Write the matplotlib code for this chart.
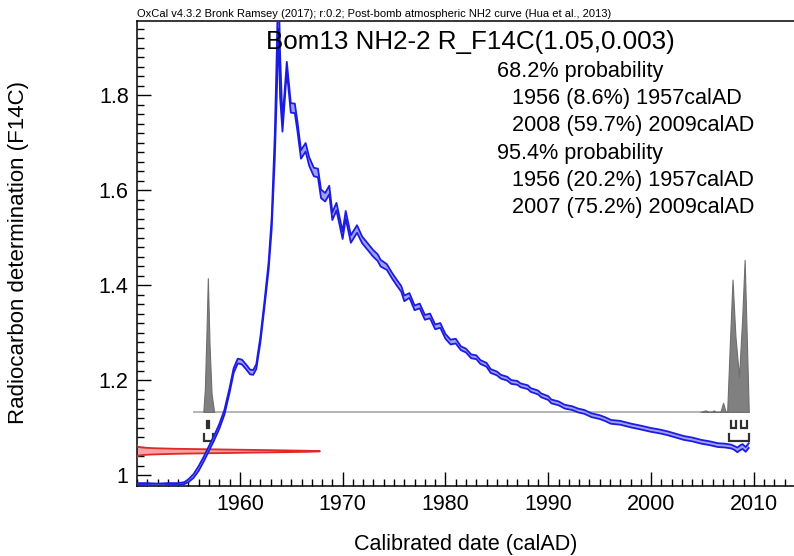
import matplotlib
matplotlib.use("Agg")
import matplotlib.pyplot as plt
import numpy as np
from matplotlib.ticker import MultipleLocator, FixedLocator

plt.rcParams['font.family'] = ['Liberation Sans', 'DejaVu Sans']

# ---- data ----
cal_year = [1950.0, 1951, 1952, 1953, 1954, 1954.6, 1955.0, 1955.5, 1956.0, 1956.5,
            1957.0, 1957.5, 1958.0, 1958.5, 1959.0, 1959.4, 1959.8, 1960.2, 1960.6, 1961.0,
            1961.3, 1961.6, 1962.0, 1962.4, 1962.8, 1963.1, 1963.4, 1963.6, 1963.75, 1963.92,
            1964.15, 1964.57, 1964.96, 1965.35, 1965.6, 1965.95, 1966.4, 1966.75, 1967.2, 1967.6,
            1967.9, 1968.3, 1968.7, 1969.0, 1969.4, 1970.0, 1970.3, 1970.8, 1971.4, 1971.9,
            1972.4, 1973.0, 1973.4, 1973.7, 1974.3, 1974.8, 1975.3, 1975.7, 1976.0, 1976.5,
            1977.0, 1977.5, 1978.0, 1978.5, 1979.0, 1979.5, 1980.0, 1980.5, 1981.0, 1981.5,
            1982.0, 1982.5, 1983.0, 1983.4, 1984.0, 1984.4, 1985.0, 1985.4, 1986.0, 1986.4,
            1987.0, 1987.3, 1988.0, 1988.3, 1989.0, 1989.3, 1990.0, 1990.3, 1991.0, 1991.6,
            1992.3, 1992.9, 1993.5, 1994.2, 1995.0, 1995.5, 1996.1, 1997.0, 1998.1, 1999.0,
            2000.0, 2000.8, 2001.6, 2002.4, 2003.2, 2004.0, 2004.9, 2005.7, 2006.5, 2007.2,
            2007.8, 2008.1, 2008.4, 2008.7, 2008.9, 2009.2, 2009.5]
cal_f14c = [0.981, 0.981, 0.980, 0.981, 0.981, 0.983, 0.988, 0.998, 1.014, 1.034,
            1.056, 1.078, 1.102, 1.132, 1.178, 1.220, 1.240, 1.238, 1.228, 1.217,
            1.216, 1.228, 1.285, 1.360, 1.440, 1.530, 1.690, 1.850, 2.000, 1.840,
            1.735, 1.860, 1.773, 1.772, 1.735, 1.675, 1.690, 1.660, 1.638, 1.636,
            1.592, 1.585, 1.600, 1.545, 1.565, 1.505, 1.548, 1.497, 1.518, 1.495,
            1.482, 1.466, 1.458, 1.446, 1.438, 1.420, 1.404, 1.392, 1.372, 1.378,
            1.352, 1.356, 1.332, 1.335, 1.312, 1.315, 1.292, 1.280, 1.282, 1.267,
            1.262, 1.250, 1.248, 1.238, 1.232, 1.219, 1.214, 1.207, 1.203, 1.196,
            1.194, 1.189, 1.185, 1.179, 1.174, 1.168, 1.162, 1.155, 1.151, 1.144,
            1.141, 1.136, 1.133, 1.126, 1.122, 1.118, 1.112, 1.110, 1.104, 1.100,
            1.095, 1.092, 1.088, 1.083, 1.078, 1.075, 1.070, 1.067, 1.063, 1.062,
            1.060, 1.057, 1.053, 1.058, 1.060, 1.054, 1.062]
cal_sigma = [0.002, 0.002, 0.002, 0.002, 0.002, 0.002, 0.003, 0.004, 0.005, 0.005,
             0.005, 0.005, 0.005, 0.005, 0.005, 0.005, 0.005, 0.005, 0.005, 0.005,
             0.005, 0.005, 0.006, 0.006, 0.008, 0.012, 0.025, 0.045, 0.060, 0.045,
             0.012, 0.010, 0.010, 0.010, 0.010, 0.009, 0.009, 0.009, 0.009, 0.009,
             0.009, 0.009, 0.009, 0.008, 0.008, 0.008, 0.008, 0.008, 0.008, 0.007,
             0.007, 0.007, 0.007, 0.007, 0.006, 0.006, 0.006, 0.006, 0.006, 0.005,
             0.005, 0.005, 0.005, 0.005, 0.005, 0.005, 0.005, 0.005, 0.005, 0.004,
             0.004, 0.004, 0.004, 0.004, 0.004, 0.004, 0.004, 0.004, 0.004, 0.004,
             0.004, 0.004, 0.004, 0.004, 0.004, 0.004, 0.004, 0.004, 0.004, 0.004,
             0.004, 0.004, 0.004, 0.004, 0.004, 0.004, 0.004, 0.004, 0.004, 0.004,
             0.004, 0.004, 0.004, 0.004, 0.004, 0.004, 0.004, 0.004, 0.004, 0.004,
             0.004, 0.004, 0.005, 0.005, 0.005, 0.005, 0.005]

# posterior (calibrated) probability, relative heights
prob_year_a = [1956.45, 1956.6, 1956.75, 1956.89, 1957.05, 1957.25, 1957.5]
prob_rel_a = [0.0, 0.15, 0.5, 0.88, 0.45, 0.12, 0.0]
prob_year_b = [2004.8, 2005.3, 2005.6, 2005.9, 2006.1, 2006.3, 2006.75, 2007.0, 2007.25,
               2007.4, 2007.65, 2007.92, 2008.2, 2008.55, 2008.85, 2009.1, 2009.3, 2009.5]
prob_rel_b = [0.0, 0.01, 0.0, 0.0, 0.01, 0.0, 0.0, 0.06, 0.0,
              0.0, 0.43, 0.87, 0.5, 0.23, 0.6, 1.0, 0.5, 0.0]
prob_baseline = 1.133
prob_span = (1955.5, 2009.5)

# measurement
meas_mean = 1.05
meas_err = 0.003

# ranges
ranges_68 = [(1956.85, 1957.0), (2007.8, 2008.3), (2008.7, 2009.35)]
ranges_95 = [(1956.5, 1957.35), (2007.6, 2009.5)]

title_small = "OxCal v4.3.2 Bronk Ramsey (2017); r:0.2; Post-bomb atmospheric NH2 curve (Hua et al., 2013)"
title_main = "Bom13 NH2-2 R_F14C(1.05,0.003)"
prob_lines = ["68.2% probability", "1956 (8.6%) 1957calAD", "2008 (59.7%) 2009calAD",
              "95.4% probability", "1956 (20.2%) 1957calAD", "2007 (75.2%) 2009calAD"]
prob_indent = [0, 1, 1, 0, 1, 1]

# ---- figure ----
W, H = 794, 556
fig = plt.figure(figsize=(W / 100, H / 100), dpi=100)
L, R, T, B = 137, 794, 20.5, 485.5
ax = fig.add_axes([L / W, 1 - B / H, (R - L) / W, (B - T) / H])
ax.set_xlim(1950.0, 2013.9)
ax.set_ylim(0.978, 1.957)

# measurement gaussian (red)
yy = np.linspace(meas_mean - 4.2 * meas_err, meas_mean + 4.2 * meas_err, 200)
xx = 1950.0 + 17.8 * np.exp(-0.5 * ((yy - meas_mean) / meas_err) ** 2)
ax.fill_betweenx(yy, 1950.0, xx, facecolor='#f4a4a4', edgecolor='none', zorder=2)
ax.plot(xx, yy, color='#e02828', lw=1.3, zorder=3)

# posterior distribution (grey)
ax.plot(prob_span, [prob_baseline, prob_baseline], color='#b4b4b4', lw=1.4, zorder=2)
scale = 0.32
for xs, ps in ((prob_year_a, prob_rel_a), (prob_year_b, prob_rel_b)):
    top = prob_baseline + scale * np.array(ps)
    ax.fill_between(xs, prob_baseline, top, facecolor='#808080', edgecolor='#6e6e6e',
                    lw=0.8, zorder=3)

# range brackets
def bracket(x0, x1, ytop, ybot):
    ax.plot([x0, x0, x1, x1], [ytop, ybot, ybot, ytop], color='#303030', lw=1.6,
            solid_joinstyle='miter', zorder=3)

for x0, x1 in ranges_68:
    bracket(x0, x1, 1.114, 1.100)
for x0, x1 in ranges_95:
    bracket(x0, x1, 1.087, 1.071)

# calibration curve (blue band)
cy = np.array(cal_year)
cf = np.array(cal_f14c)
cs = np.array(cal_sigma)
ax.fill_between(cy, cf - cs, cf + cs, facecolor='#a0a0f2', edgecolor='none', zorder=4)
ax.plot(cy, cf + cs, color='#1c1ce0', lw=1.3, zorder=5)
ax.plot(cy, cf - cs, color='#1c1ce0', lw=1.3, zorder=5)

# axes styling
ax.spines['right'].set_visible(False)
for s in ('left', 'bottom', 'top'):
    ax.spines[s].set_linewidth(1.1)
ax.xaxis.set_major_locator(FixedLocator([1960, 1970, 1980, 1990, 2000, 2010]))
ax.xaxis.set_minor_locator(MultipleLocator(1))
ax.yaxis.set_major_locator(FixedLocator([1.0, 1.2, 1.4, 1.6, 1.8]))
ax.yaxis.set_minor_locator(MultipleLocator(0.02))
ax.set_yticklabels(["1", "1.2", "1.4", "1.6", "1.8"])
ax.tick_params(which='both', direction='in', top=False, right=False, labelsize=15.5, width=1)
ax.tick_params(which='major', length=10, pad=6)
ax.tick_params(which='minor', length=5)

ax.set_xlabel("Calibrated date (calAD)", fontsize=15.5, labelpad=14)
ax.set_ylabel("Radiocarbon determination (F14C)", fontsize=16, labelpad=50)

fig.text(L / W, 1 - 14 / H, title_small, fontsize=8.0, ha='left', va='center')
fig.text(470 / W, 1 - 42 / H, title_main, fontsize=18.7, ha='center', va='center')
y0 = 71
for i, (s, ind) in enumerate(zip(prob_lines, prob_indent)):
    fig.text((497 + 15 * ind) / W, 1 - (y0 + 27.4 * i) / H, s, fontsize=15.6,
             ha='left', va='center')

fig.savefig("out.png", dpi=100)
